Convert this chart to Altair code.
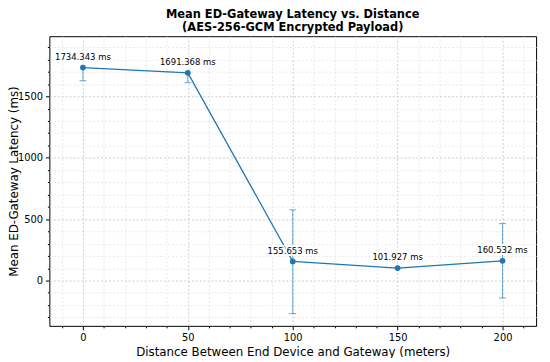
import altair as alt
import pandas as pd

distance = [0, 50, 100, 150, 200]
latency = [1734.343, 1691.368, 155.653, 101.927, 160.532]
err_low = [107, 80, 425, 0, 303]
err_high = [0, 0, 420, 0, 303]

df = pd.DataFrame({"d": distance, "lat": latency, "el": err_low, "eh": err_high})
df["lo"] = df["lat"] - df["el"]
df["hi"] = df["lat"] + df["eh"]
df["label"] = [f"{v:.3f} ms" for v in latency]

FONT = "DejaVu Sans"
BLUE = "#1f77b4"
xdom = [-16, 216]
ydom = [-369, 1990]

xticks = list(range(-10, 211, 10))
yticks = list(range(-300, 1901, 100))

xaxis = alt.Axis(
    values=xticks, title="Distance Between End Device and Gateway (meters)",
    labelExpr="datum.value % 50 === 0 ? datum.label : ''",
    tickSize={"condition": {"test": "datum.value % 50 === 0", "value": 4}, "value": 2},
    gridColor={"condition": {"test": "datum.value % 50 === 0", "value": "#cccccc"}, "value": "#e8e8e8"},
    gridDash=[2, 2], domain=False, tickColor="black", labelColor="black",
    labelFontSize=10, titleFontSize=12, labelFont=FONT, titleFont=FONT,
    titleFontWeight="normal", titleColor="black", labelPadding=3, titlePadding=4,
)
yaxis = alt.Axis(
    values=yticks, title="Mean ED-Gateway Latency (ms)",
    labelExpr="datum.value % 500 === 0 ? datum.label : ''",
    tickSize={"condition": {"test": "datum.value % 500 === 0", "value": 4}, "value": 2},
    gridColor={"condition": {"test": "datum.value % 500 === 0", "value": "#cccccc"}, "value": "#e8e8e8"},
    gridDash=[2, 2], domain=False, tickColor="black", labelColor="black",
    labelFontSize=10, titleFontSize=12, labelFont=FONT, titleFont=FONT,
    titleFontWeight="normal", titleColor="black", labelPadding=3,
    titleX=-36, titleY=147, titleBaseline="middle", titleAlign="center", titleAngle=270,
    format="d",
)

xs = alt.Scale(domain=xdom, nice=False, zero=False)
ys = alt.Scale(domain=ydom, nice=False, zero=False)

base = alt.Chart(df)
x = alt.X("d:Q", scale=xs, axis=xaxis)
y = alt.Y("lat:Q", scale=ys, axis=yaxis)

line = base.mark_line(color=BLUE, strokeWidth=1.3).encode(x=x, y=y)

errs = base.transform_filter("datum.el > 0 || datum.eh > 0")
err_rule = errs.mark_rule(color=BLUE, opacity=0.65, strokeWidth=1).encode(
    x=x, y=alt.Y("lo:Q", scale=ys, axis=yaxis), y2="hi:Q")
cap_lo = errs.transform_filter("datum.el > 0").mark_tick(
    color=BLUE, opacity=0.65, size=7, thickness=1, orient="horizontal").encode(
    x=x, y=alt.Y("lo:Q", scale=ys, axis=yaxis))
cap_hi = errs.transform_filter("datum.eh > 0").mark_tick(
    color=BLUE, opacity=0.65, size=7, thickness=1, orient="horizontal").encode(
    x=x, y=alt.Y("hi:Q", scale=ys, axis=yaxis))

pts = base.mark_circle(color=BLUE, size=34, opacity=1).encode(x=x, y=y)

halo = base.mark_text(font=FONT, fontSize=8.6, dy=-11, baseline="middle",
                      stroke="white", strokeWidth=4, color="white").encode(
    x=x, y=y, text="label:N")
labels = base.mark_text(font=FONT, fontSize=8.6, dy=-11, baseline="middle",
                        color="black").encode(
    x=x, y=y, text="label:N")

chart = alt.layer(line, err_rule, cap_lo, cap_hi, halo, labels, pts).properties(
    width=494, height=294,
    background="white",
    title=alt.TitleParams(
        ["Mean ED-Gateway Latency vs. Distance", "(AES-256-GCM Encrypted Payload)"],
        fontSize=11.6, fontWeight="bold", font=FONT, color="black",
        anchor="middle", offset=3, lineHeight=13,
    ),
    autosize=alt.AutoSizeParams(type="none"),
    padding={"left": 42, "top": 26, "right": 6, "bottom": 30},
).configure_view(stroke="black", strokeWidth=1)

chart.save("out.html", embed_options={"renderer": "svg", "actions": False})
